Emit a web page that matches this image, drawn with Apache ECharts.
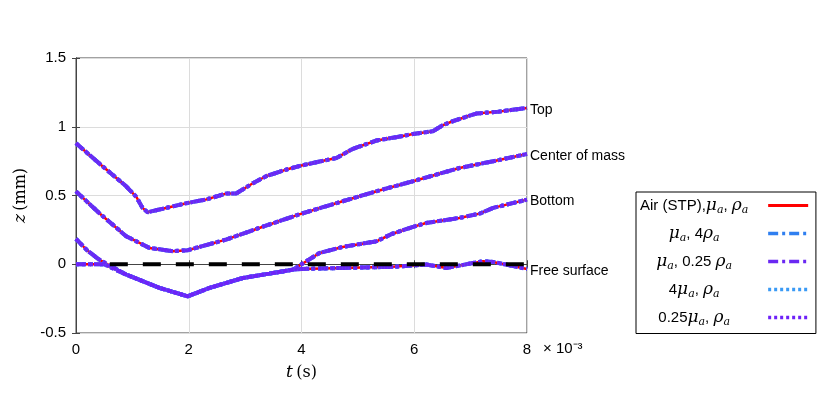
<!DOCTYPE html>
<html>
<head>
<meta charset="utf-8">
<script src="https://cdn.jsdelivr.net/npm/echarts@6/dist/echarts.min.js"></script>
<style>
  html, body { margin: 0; padding: 0; background: #fff; }
  #main { width: 831px; height: 398px; }
</style>
</head>
<body>
<div id="main"></div>
<script>
// curves: [t (x1e-3 s), z (mm)]
var topCurve = [[0,0.88],[0.45,0.72],[0.89,0.567],[1.07,0.49],[1.18,0.41],[1.27,0.378],[1.5,0.4],[1.98,0.446],[2.3,0.47],[2.66,0.514],[2.84,0.514],[3.1,0.58],[3.37,0.64],[3.7,0.685],[4.0,0.718],[4.3,0.745],[4.62,0.773],[4.91,0.839],[5.33,0.9],[5.7,0.925],[5.98,0.948],[6.33,0.967],[6.5,1.01],[6.68,1.04],[7.1,1.096],[7.5,1.11],[8,1.137]];
var comCurve = [[0,0.53],[0.41,0.373],[0.89,0.204],[1.3,0.119],[1.72,0.095],[1.98,0.102],[2.66,0.179],[3.25,0.264],[4.0,0.368],[4.73,0.458],[5.33,0.531],[5.98,0.604],[6.8,0.70],[7.4,0.749],[8,0.802]];
var bottomCurve = [[0,0.184],[0.2,0.1],[0.41,0.034],[0.89,-0.075],[1.48,-0.172],[1.98,-0.233],[2.37,-0.172],[2.96,-0.1],[3.43,-0.068],[3.85,-0.039],[4.32,0.082],[4.73,0.126],[5.33,0.167],[5.6,0.22],[5.98,0.272],[6.21,0.3],[6.8,0.337],[7.16,0.368],[7.4,0.41],[8,0.47]];
var surfaceCurve = [[0,0],[0.5,0],[0.89,-0.075],[1.48,-0.172],[1.98,-0.233],[2.37,-0.172],[2.96,-0.1],[3.43,-0.068],[3.85,-0.039],[4.0,-0.034],[4.73,-0.027],[5.62,-0.019],[6.21,-0.002],[6.57,-0.027],[7.22,0.022],[7.4,0.017],[8,-0.034]];
var restLevel = [[0.6,0],[8,0]];

var curveNames = ['Top', 'Center of mass', 'Bottom', 'Free surface'];
var curves = [topCurve, comCurve, bottomCurve, surfaceCurve];

var caseNames = ['air', 'rho4', 'rho025', 'mu4', 'mu025'];
var caseLabels = {
  air: '{r|Air (STP),}{m|μ}{s|a}{r|, }{m|ρ}{s|a}',
  rho4: '{m|μ}{s|a}{r|, 4}{m|ρ}{s|a}',
  rho025: '{m|μ}{s|a}{r|, 0.25 }{m|ρ}{s|a}',
  mu4: '{r|4}{m|μ}{s|a}{r|, }{m|ρ}{s|a}',
  mu025: '{r|0.25}{m|μ}{s|a}{r|, }{m|ρ}{s|a}'
};
var caseStyles = {
  air: { color: '#ff0000', width: 2.5, type: 'solid' },
  rho4: { color: '#2f7ff0', width: 4, type: [10, 4, 3, 4] },
  rho025: { color: '#6a28f2', width: 4, type: [10, 4, 3, 4] },
  mu4: { color: '#3a9af5', width: 4, type: [3, 3] },
  mu025: { color: '#6e22f8', width: 4, type: [3, 3] }
};

var myChart = echarts.init(document.getElementById('main'));

var series = [];
caseNames.forEach(function (c) {
  curves.forEach(function (d, k) {
    var s = {
      name: c,
      type: 'line',
      data: d,
      symbol: 'none',
      silent: true,
      lineStyle: caseStyles[c],
      itemStyle: { color: caseStyles[c].color }
    };
    if (c === 'air') {
      s.endLabel = {
        show: true,
        formatter: curveNames[k],
        color: '#000',
        fontSize: 14,
        fontFamily: 'Liberation Sans',
        distance: 3,
        offset: [0, 2]
      };
    }
    series.push(s);
  });
});
series.push({
  name: 'rest',
  type: 'line',
  data: restLevel,
  symbol: 'none',
  silent: true,
  z: 5,
  lineStyle: { color: '#000', width: 4, type: [18, 15] }
});

var legendRich = {
  r: { fontSize: 15, fontFamily: 'Liberation Sans', color: '#000', lineHeight: 20, align: 'center' },
  m: { fontSize: 17, fontFamily: 'DejaVu Serif', fontStyle: 'italic', color: '#000', lineHeight: 20, align: 'center' },
  s: { fontSize: 11, fontFamily: 'DejaVu Serif', fontStyle: 'italic', color: '#000', lineHeight: 20, verticalAlign: 'bottom', align: 'center' }
};

var legendData = caseNames.map(function (c) {
  return { name: c, lineStyle: { width: c === 'air' ? 3 : 3.5 } };
});

var option = {
  animation: false,
  backgroundColor: '#fff',
  grid: { left: 76, right: 304, top: 58, bottom: 65, show: true, borderColor: '#444', borderWidth: 1 },
  xAxis: [
    {
      type: 'value', min: 0, max: 8, interval: 2,
      name: '{i|t} {r|(s)}', nameLocation: 'middle', nameGap: 31,
      nameTextStyle: { rich: {
        i: { fontFamily: 'DejaVu Serif', fontStyle: 'italic', fontSize: 17, color: '#000' },
        r: { fontFamily: 'DejaVu Serif', fontSize: 16, color: '#000' }
      } },
      axisLine: { show: true, lineStyle: { color: '#444' } },
      axisTick: { inside: true, length: 4, lineStyle: { color: '#444' } },
      axisLabel: { fontSize: 15, fontFamily: 'Liberation Sans', color: '#000', margin: 9 },
      splitLine: { show: true, lineStyle: { color: '#dcdcdc' } }
    },
    {
      type: 'value', min: 0, max: 8, interval: 2, position: 'top',
      axisLine: { show: true, lineStyle: { color: '#444' } },
      axisTick: { inside: true, length: 4, lineStyle: { color: '#444' } },
      axisLabel: { show: false }, splitLine: { show: false }
    }
  ],
  yAxis: [
    {
      type: 'value', min: -0.5, max: 1.5, interval: 0.5,
      name: '{i|z} {r|(mm)}', nameLocation: 'middle', nameGap: 35, nameRotate: 90,
      nameTextStyle: { rich: {
        i: { fontFamily: 'DejaVu Serif', fontStyle: 'italic', fontSize: 17, color: '#000' },
        r: { fontFamily: 'DejaVu Serif', fontSize: 16, color: '#000' }
      } },
      axisLine: { show: true, lineStyle: { color: '#444' } },
      axisTick: { show: true, inside: true, length: 4, lineStyle: { color: '#444' } },
      axisLabel: { fontSize: 15, fontFamily: 'Liberation Sans', color: '#000', margin: 10 },
      splitLine: { show: true, lineStyle: { color: '#dcdcdc' } }
    },
    {
      type: 'value', min: -0.5, max: 1.5, interval: 0.5, position: 'right',
      axisLine: { show: true, lineStyle: { color: '#444' } },
      axisTick: { show: true, inside: true, length: 4, lineStyle: { color: '#444' } },
      axisLabel: { show: false }, splitLine: { show: false }
    }
  ],
  legend: {
    data: legendData,
    orient: 'vertical',
    left: 636,
    top: 192,
    align: 'right',
    itemWidth: 40,
    itemHeight: 14,
    itemGap: 9.5,
    padding: [5, 6, 6, 4],
    borderColor: '#000',
    borderWidth: 1,
    backgroundColor: '#fff',
    selectedMode: false,
    itemStyle: { opacity: 0 },
    formatter: function (name) { return caseLabels[name]; },
    textStyle: { width: 138, rich: legendRich }
  },
  graphic: [
    {
      type: 'text', left: 543, top: 341,
      style: { text: '× 10⁻³', fontSize: 15, fontFamily: 'Liberation Sans', fill: '#000' }
    }
  ],
  series: series
};

myChart.setOption(option);
</script>
</body>
</html>
